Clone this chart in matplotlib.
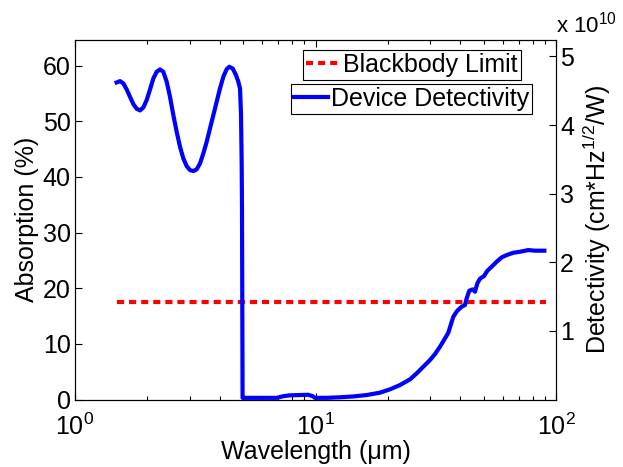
import matplotlib
matplotlib.use("Agg")
import matplotlib.pyplot as plt
from matplotlib.lines import Line2D

plt.rcParams['font.family'] = ['Liberation Sans', 'DejaVu Sans']
plt.rcParams['mathtext.fontset'] = 'custom'
plt.rcParams['mathtext.rm'] = 'Liberation Sans'
plt.rcParams['mathtext.it'] = 'Liberation Sans'

FS = 18

# Device curve (left axis, %)
dev_x = [1.490, 1.539, 1.589, 1.640, 1.693, 1.748, 1.805, 1.863, 1.924, 1.986,
         2.051, 2.117, 2.186, 2.256, 2.329, 2.406, 2.483, 2.564, 2.647, 2.733,
         2.821, 2.913, 3.007, 3.105, 3.205, 3.310, 3.417, 3.528, 3.642, 3.760,
         3.882, 4.008, 4.138, 4.272, 4.382, 4.524, 4.671, 4.777, 4.855, 4.900,
         4.932, 4.948, 4.975, 5.01, 6.90, 7.35, 7.83, 8.62, 9.33, 9.73, 9.95,
         11.13, 12.65, 14.37, 16.32, 18.54, 20.41, 22.46, 24.72, 26.34, 28.08,
         29.94, 31.40, 32.94, 34.56, 35.67, 36.48, 37.42, 38.88, 40.53, 41.84,
         42.52, 43.61, 45.03, 46.05, 47.09, 48.31, 50.19, 51.83, 54.02, 56.67,
         59.44, 62.36, 66.47, 70.84, 76.74, 81.80, 89.44]
dev_y = [56.97, 57.21, 56.79, 55.72, 54.40, 53.08, 52.24, 51.94, 52.48, 53.80,
         55.72, 57.69, 58.89, 59.31, 58.89, 57.09, 54.40, 51.10, 48.11, 45.42,
         43.32, 41.94, 41.22, 41.05, 41.35, 42.42, 44.22, 46.31, 48.71, 51.10,
         53.50, 55.90, 57.99, 59.37, 59.79, 59.49, 58.29, 57.09, 55.90, 51.41,
         42.42, 34.00, 0.30, 0.30, 0.30, 0.60, 0.75, 0.80, 0.85, 0.60, 0.30,
         0.30, 0.40, 0.55, 0.80, 1.23, 1.83, 2.60, 3.62, 4.70, 5.90,
         7.10, 8.17, 9.49, 10.99, 12.00, 13.38, 14.88, 15.96, 16.68, 16.98,
         18.17, 19.55, 19.79, 19.37, 20.87, 21.71, 22.18, 23.14, 23.86, 24.76,
         25.54, 25.96, 26.37, 26.55, 26.85, 26.74, 26.74]

# Blackbody limit (left axis, %)
bb_x = [1.5, 90.8]
bb_y = [17.5, 17.5]

left_ticks = [0, 10, 20, 30, 40, 50, 60]
right_ticks = [1, 2, 3, 4, 5]

fig = plt.figure(figsize=(6.23, 4.67), dpi=100)
ax = fig.add_axes([75/623, 1-399.5/467, (556-75)/623, (399.5-40)/467])
ax2 = ax.twinx()

ax.plot(bb_x, bb_y, color='red', lw=3, linestyle=(0, (1.7, 1.2)))
ax.plot(dev_x, dev_y, color='blue', lw=3, solid_joinstyle='round')

ax.set_xscale('log')
ax.set_xlim(1, 100)
ax.set_ylim(0, 64.6)
ax.set_yticks(left_ticks)
ax.set_xticks([1, 10, 100])
ax.set_xticklabels([r'$10^0$', r'$10^1$', r'$10^2$'])
ax2.set_ylim(0, 5.24)
ax2.set_yticks(right_ticks)

for a in (ax, ax2):
    a.tick_params(direction='in', labelsize=FS, length=5, width=0.8, pad=3)
    a.tick_params(which='minor', direction='in', length=3, width=0.8)
ax.tick_params(axis='x', which='both', top=True, pad=10)
ax.tick_params(axis='y', right=False)

ax.set_xlabel('Wavelength (μm)', fontsize=FS, labelpad=0)
ax.set_ylabel('Absorption (%)', fontsize=FS, labelpad=3)
ax2.set_ylabel('Detectivity (cm*Hz$^{1/2}$/W)', fontsize=FS, labelpad=5)

fig.text(556/623, 1-33/467, r'x 10$^{10}$', fontsize=16, ha='left', va='baseline')

h1 = Line2D([], [], color='red', lw=3, linestyle=(0, (1.7, 1.2)))
h2 = Line2D([], [], color='blue', lw=3)
common = dict(loc='upper left', fontsize=FS, fancybox=False, edgecolor='black',
              framealpha=1, borderaxespad=0, handlelength=1.36,
              handletextpad=0.12, borderpad=0.12)
leg1 = fig.legend([h1], ['Blackbody Limit'],
                  bbox_to_anchor=(303/623, 1-50/467), **common)
leg2 = fig.legend([h2], ['Device Detectivity'],
                  bbox_to_anchor=(291/623, 1-84/467), **common)
for lg in (leg1, leg2):
    lg.get_frame().set_linewidth(0.8)

fig.savefig('out.png', dpi=100)
